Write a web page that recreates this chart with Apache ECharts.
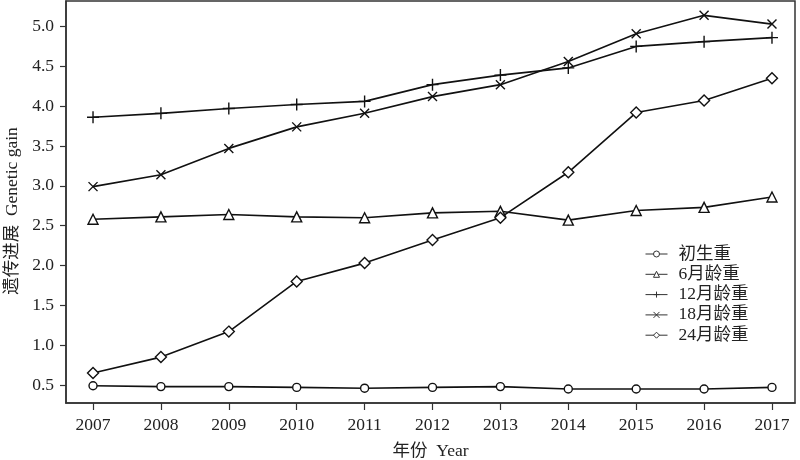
<!DOCTYPE html>
<html>
<head>
<meta charset="utf-8">
<script src="https://cdn.jsdelivr.net/npm/echarts@6/dist/echarts.min.js"></script>
<style>html,body{margin:0;padding:0;background:#fff}#c{width:800px;height:460px}</style>
</head>
<body>
<div id="c"></div>
<script>
var years = [2007, 2008, 2009, 2010, 2011, 2012, 2013, 2014, 2015, 2016, 2017];
var yTicks = [0.5, 1.0, 1.5, 2.0, 2.5, 3.0, 3.5, 4.0, 4.5, 5.0];
var seriesNames = ['初生重', '6月龄重', '12月龄重', '18月龄重', '24月龄重'];
var birthWeight = [0.49, 0.48, 0.48, 0.47, 0.46, 0.47, 0.48, 0.45, 0.45, 0.45, 0.47];
var weight6m = [2.58, 2.61, 2.64, 2.61, 2.60, 2.66, 2.68, 2.57, 2.69, 2.73, 2.86];
var weight12m = [3.86, 3.91, 3.97, 4.02, 4.06, 4.27, 4.39, 4.48, 4.75, 4.81, 4.86];
var weight18m = [2.99, 3.14, 3.47, 3.74, 3.91, 4.12, 4.27, 4.56, 4.91, 5.14, 5.03];
var weight24m = [0.65, 0.85, 1.17, 1.80, 2.03, 2.32, 2.60, 3.17, 3.92, 4.07, 4.35];

var FONT = "'Liberation Serif', 'Times New Roman', 'Noto Sans CJK SC', serif";
var INK = '#111';
var TXT = '#222';

function pairs(vals) {
  return years.map(function (y, i) { return [y, vals[i]]; });
}

var symbols = [
  { symbol: 'circle', size: 8 },
  { symbol: 'triangle', size: 10 },
  { symbol: 'path://M0,6L12,6M6,0L6,12', size: 12 },
  { symbol: 'path://M0,0L10,10M10,0L0,10', size: 9 },
  { symbol: 'diamond', size: 11 }
];
var dataSets = [birthWeight, weight6m, weight12m, weight18m, weight24m];

var series = dataSets.map(function (vals, i) {
  return {
    name: seriesNames[i],
    type: 'line',
    data: pairs(vals),
    symbol: symbols[i].symbol,
    symbolSize: symbols[i].size,
    showAllSymbol: true,
    lineStyle: { color: INK, width: 1.6 },
    itemStyle: { color: '#fff', borderColor: INK, borderWidth: 1.4 },
    emphasis: { disabled: true },
    animation: false,
    z: 2 + i
  };
});

var chart = echarts.init(document.getElementById('c'), null, { renderer: 'canvas' });
chart.setOption({
  backgroundColor: '#fff',
  animation: false,
  grid: {
    left: 66, right: 5, top: 1, bottom: 57,
    outerBoundsMode: 'none',
    containLabel: false,
    show: true, borderColor: '#333', borderWidth: 1.5, backgroundColor: 'transparent'
  },
  legend: {
    orient: 'vertical',
    left: 640, top: 240,
    itemWidth: 22, itemHeight: 7.5, itemGap: 2.3,
    data: seriesNames,
    textStyle: { fontFamily: FONT, fontSize: 17.5, color: TXT, lineHeight: 18, padding: [0, 0, 0, 6] },
    itemStyle: { color: '#fff', borderColor: '#333', borderWidth: 1 },
    lineStyle: { color: '#333', width: 1 },
    selectedMode: false
  },
  xAxis: {
    type: 'value',
    min: 2006.602, max: 2017.339,
    name: '年份  Year',
    nameLocation: 'middle',
    nameGap: 40,
    nameTextStyle: { fontFamily: FONT, fontSize: 17.5, color: TXT },
    axisLine: { show: true, lineStyle: { color: '#333', width: 1.5 } },
    axisTick: { show: true, length: 7, inside: false, customValues: years, lineStyle: { color: '#333', width: 1.2 } },
    axisLabel: {
      customValues: years, margin: 14,
      fontFamily: FONT, fontSize: 17.5, color: TXT,
      formatter: function (v) { return String(v); }
    },
    splitLine: { show: false }
  },
  yAxis: {
    type: 'value',
    min: 0.274, max: 5.32,
    name: '遗传进展  Genetic gain',
    nameLocation: 'middle',
    nameGap: 42,
    nameRotate: 90,
    nameTextStyle: { fontFamily: FONT, fontSize: 17.5, color: TXT, padding: [0, 18, 0, 0] },
    axisLine: { show: true, lineStyle: { color: '#333', width: 1.5 } },
    axisTick: { show: true, length: 6, inside: false, customValues: yTicks, lineStyle: { color: '#333', width: 1.2 } },
    axisLabel: {
      customValues: yTicks, margin: 12,
      fontFamily: FONT, fontSize: 17.5, color: TXT,
      formatter: function (v) { return v.toFixed(1); }
    },
    splitLine: { show: false }
  },
  series: series
});
</script>
</body>
</html>
